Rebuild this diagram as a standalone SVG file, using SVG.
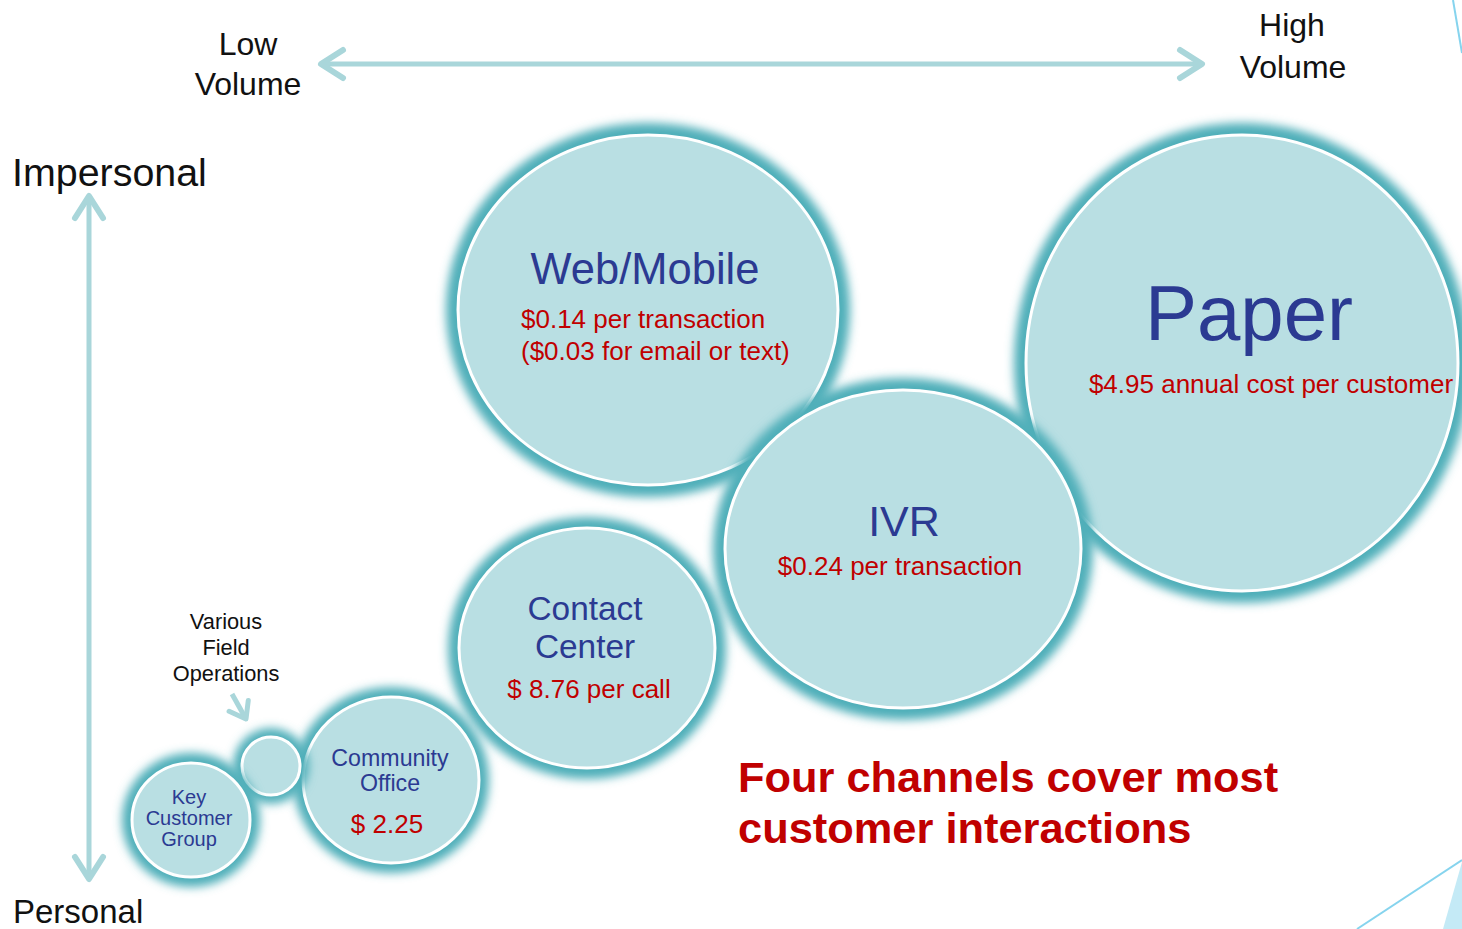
<svg xmlns="http://www.w3.org/2000/svg" width="1462" height="929" viewBox="0 0 1462 929">
  <defs>
    <style>
      text { font-family: "Liberation Sans", Arial, sans-serif; }
      .axis { fill: #111111; }
      .title { fill: #2B3A92; text-anchor: middle; }
      .cost { fill: #C00000; text-anchor: middle; }
      .glow { fill: #4FAFB9; filter: url(#soft); }
      .bubble { fill: #B9DFE3; stroke: #FFFFFF; stroke-width: 3; }
      .conn { fill: none; stroke: #A9D6DA; stroke-width: 5; }
      .note { fill: #C00000; font-weight: bold; font-size: 43.4px; }
      .start { text-anchor: start; }
    </style>
    <filter id="soft" x="-30%" y="-30%" width="160%" height="160%">
      <feGaussianBlur stdDeviation="5"/>
    </filter>
    <marker id="chev" markerUnits="userSpaceOnUse" viewBox="-28 -20 34 40" refX="0" refY="0"
            markerWidth="34" markerHeight="40" orient="auto-start-reverse">
      <path d="M -22 -14 L 0 0 L -22 14" fill="none" stroke="#A9D6DA" stroke-width="6"
            stroke-linecap="round" stroke-linejoin="round"/>
    </marker>
    <marker id="chevSmall" markerUnits="userSpaceOnUse" viewBox="-20 -16 26 32" refX="0" refY="0"
            markerWidth="26" markerHeight="32" orient="auto">
      <path d="M -15 -11 L 0 0 L -15 11" fill="none" stroke="#A9D6DA" stroke-width="5"
            stroke-linecap="round" stroke-linejoin="round"/>
    </marker>
  </defs>

  <rect x="0" y="0" width="1462" height="929" fill="#FFFFFF"/>

  <!-- corner accents -->
  <line x1="1453" y1="0" x2="1462" y2="53" stroke="#86D4EE" stroke-width="2"/>
  <polygon points="1462,862 1443,929 1462,929" fill="#C4EAF6"/>
  <line x1="1357" y1="929" x2="1462" y2="860" stroke="#86D4EE" stroke-width="2"/>

  <!-- axes -->
  <g id="connectors">
    <path class="conn" d="M 321 64 L 1202 64" marker-start="url(#chev)" marker-end="url(#chev)"/>
    <path class="conn" d="M 89 196 L 89 879" marker-start="url(#chev)" marker-end="url(#chev)"/>
    <path class="conn" d="M 232 694 L 246 719" marker-end="url(#chevSmall)"/>
  </g>

  <g id="axis-labels">
    <text class="axis" x="248" y="55" font-size="32" text-anchor="middle">Low</text>
    <text class="axis" x="248" y="95" font-size="32" text-anchor="middle">Volume</text>
    <text class="axis" x="1292" y="36" font-size="32" text-anchor="middle">High</text>
    <text class="axis" x="1293" y="78" font-size="32" text-anchor="middle">Volume</text>
    <text class="axis" x="12" y="186" font-size="39.4">Impersonal</text>
    <text class="axis" x="13" y="923" font-size="33">Personal</text>
  </g>

  <g id="paper">
    <ellipse class="glow" cx="1242" cy="363" rx="228" ry="240"/>
    <ellipse class="bubble" cx="1242" cy="363" rx="216" ry="228"/>
    <text class="title" x="1249" y="340" font-size="78">Paper</text>
    <text class="cost" x="1271" y="393" font-size="26">$4.95 annual cost per customer</text>
  </g>

  <g id="web-mobile">
    <ellipse class="glow" cx="648" cy="310" rx="202" ry="187"/>
    <ellipse class="bubble" cx="648" cy="310" rx="190" ry="175"/>
    <text class="title" x="645" y="284" font-size="43.5">Web/Mobile</text>
    <text class="cost start" x="521" y="328" font-size="26">$0.14 per transaction</text>
    <text class="cost start" x="521" y="360" font-size="26">($0.03 for email or text)</text>
  </g>

  <g id="ivr">
    <ellipse class="glow" cx="903" cy="549" rx="190" ry="171"/>
    <ellipse class="bubble" cx="903" cy="549" rx="178" ry="159"/>
    <text class="title" x="904" y="536" font-size="43">IVR</text>
    <text class="cost" x="900" y="575" font-size="26">$0.24 per transaction</text>
  </g>

  <g id="contact-center">
    <ellipse class="glow" cx="587" cy="648" rx="139" ry="131"/>
    <ellipse class="bubble" cx="587" cy="648" rx="128" ry="120"/>
    <text class="title" x="585" y="620" font-size="33.4">Contact</text>
    <text class="title" x="585" y="658" font-size="33.4">Center</text>
    <text class="cost" x="589" y="698" font-size="26">$ 8.76 per call</text>
  </g>

  <g id="community-office">
    <ellipse class="glow" cx="391" cy="780" rx="98" ry="93"/>
    <ellipse class="bubble" cx="391" cy="780" rx="88" ry="83"/>
    <text class="title" x="390" y="766" font-size="23.2">Community</text>
    <text class="title" x="390" y="791" font-size="23.2">Office</text>
    <text class="cost" x="387" y="833" font-size="26">$ 2.25</text>
  </g>

  <g id="field-operations">
    <circle class="glow" cx="271" cy="766" r="38"/>
    <circle class="bubble" cx="271" cy="766" r="29"/>
    <text class="axis" x="226" y="629" font-size="21.8" text-anchor="middle">Various</text>
    <text class="axis" x="226" y="655" font-size="21.8" text-anchor="middle">Field</text>
    <text class="axis" x="226" y="681" font-size="21.8" text-anchor="middle">Operations</text>
  </g>

  <g id="key-customer-group">
    <ellipse class="glow" cx="191" cy="820" rx="69" ry="67"/>
    <ellipse class="bubble" cx="191" cy="820" rx="59" ry="57"/>
    <text class="title" x="189" y="804" font-size="20">Key</text>
    <text class="title" x="189" y="825" font-size="20">Customer</text>
    <text class="title" x="189" y="846" font-size="20">Group</text>
  </g>

  <g id="summary">
    <text class="note" x="738" y="792">Four channels cover most</text>
    <text class="note" x="738" y="843">customer interactions</text>
  </g>
</svg>
